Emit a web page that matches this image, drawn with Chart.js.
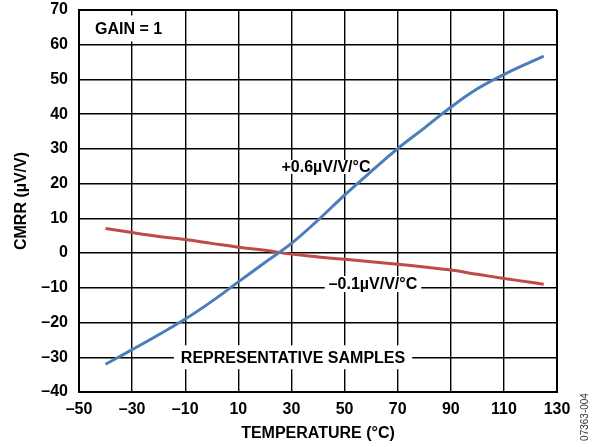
<!DOCTYPE html>
<html>
<head>
<meta charset="utf-8">
<script src="https://cdn.jsdelivr.net/npm/chart.js@4"></script>
<style>
  html, body { margin: 0; padding: 0; background: #fff; }
  #wrap { width: 597px; height: 447px; position: relative; }
</style>
</head>
<body>
<div id="wrap"><canvas id="myChart"></canvas></div>
<script>
// temperature (°C) at which each curve was read
const temps = [-40, -30, -20, -10, 0, 10, 20, 30, 40, 50, 60, 70, 80, 90, 100, 110, 120, 125]
// CMRR (µV/V), sample with +0.6µV/V/°C drift
const cmrrUp = [-32, -27.8, -23.5, -19, -13.9, -8.3, -2.7, 2.8, 9.5, 16.7, 23.5, 30.1, 36, 42, 47.3, 51.4, 55, 56.7]
// CMRR (µV/V), sample with -0.1µV/V/°C drift
const cmrrDown = [7.1, 5.9, 4.8, 3.9, 2.8, 1.7, 0.8, -0.3, -1.1, -1.8, -2.5, -3.2, -4.0, -4.9, -6.1, -7.3, -8.4, -9.0]

const xTicks = {min: -50, max: 130, step: 20}
const yTicks = {min: -40, max: 70, step: 10}

const FONT = '"Liberation Sans", Arial, Helvetica, sans-serif'

// text notes placed in data space, drawn on a white box over the grid
const notes = [
    {text: 'GAIN = 1', x: -44, y: 64.7, align: 'left', padX: 7, padY: 13},
    {text: '+0.6µV/V/°C', x: 43, y: 24.8, align: 'center', padX: 4, padY: 7},
    {text: '–0.1µV/V/°C', x: 60.7, y: -8.9, align: 'center', padX: 4, padY: 8},
    {text: 'REPRESENTATIVE SAMPLES', x: 30.6, y: -30, align: 'center', padX: 7, padY: 12}
]

function dash(v) {
    return v < 0 ? '–' + Math.abs(v) : '' + v
}

const notesPlugin = {
    id: 'notes',
    beforeDatasetsDraw(chart) {
        const ctx = chart.ctx
        const xs = chart.scales.x, ys = chart.scales.y
        ctx.save()
        ctx.font = 'bold 16px ' + FONT
        ctx.textBaseline = 'middle'
        notes.forEach(n => {
            const px = xs.getPixelForValue(n.x)
            const py = ys.getPixelForValue(n.y)
            const w = ctx.measureText(n.text).width
            const left = n.align === 'left' ? px : px - w / 2
            ctx.fillStyle = '#fff'
            ctx.fillRect(left - n.padX, py - n.padY, w + 2 * n.padX, 2 * n.padY)
            ctx.fillStyle = '#000'
            ctx.textAlign = 'left'
            ctx.fillText(n.text, left, py + 1)
        })
        ctx.restore()
    },
    afterDraw(chart) {
        const ctx = chart.ctx
        ctx.save()
        ctx.translate(chart.width - 12, chart.height - 30)
        ctx.rotate(-Math.PI / 2)
        ctx.font = '10px ' + FONT
        ctx.fillStyle = '#333'
        ctx.textAlign = 'center'
        ctx.textBaseline = 'middle'
        ctx.fillText('07363-004', 0, 0)
        ctx.restore()
    }
}

function edgeWidth(lo, hi) {
    return c => (c.tick && (c.tick.value === lo || c.tick.value === hi)) ? 2 : 1.4
}

const ctx = document.getElementById('myChart').getContext('2d')
const myChart = new Chart(ctx, {
    type: 'scatter',
    data: {
        datasets: [
            {
                label: '+0.6µV/V/°C',
                data: temps.map((t, i) => ({x: t, y: cmrrUp[i]})),
                showLine: true,
                borderColor: '#4a7ebb',
                borderWidth: 3,
                pointRadius: 0,
                tension: 0.4
            },
            {
                label: '–0.1µV/V/°C',
                data: temps.map((t, i) => ({x: t, y: cmrrDown[i]})),
                showLine: true,
                borderColor: '#be4b48',
                borderWidth: 3,
                pointRadius: 0,
                tension: 0.4
            }
        ]
    },
    options: {
        responsive: true,
        maintainAspectRatio: false,
        animation: false,
        events: [],
        layout: {padding: {left: 0, right: 40, top: 10, bottom: 0}},
        plugins: {legend: {display: false}, tooltip: {enabled: false}},
        scales: {
            x: {
                type: 'linear',
                min: xTicks.min,
                max: xTicks.max,
                afterFit: s => { s.height = 55; s.paddingLeft = 0; s.paddingRight = 0 },
                ticks: {
                    stepSize: xTicks.step,
                    color: '#000',
                    padding: 8,
                    maxRotation: 0,
                    font: {family: FONT, size: 16, weight: 'bold'},
                    callback: v => dash(v)
                },
                grid: {color: '#000', lineWidth: edgeWidth(xTicks.min, xTicks.max), drawTicks: false},
                border: {display: true, color: '#000', width: 2},
                title: {
                    display: true,
                    text: 'TEMPERATURE (°C)',
                    color: '#000',
                    font: {family: FONT, size: 16, weight: 'bold'},
                    padding: {top: 0, bottom: 4}
                }
            },
            y: {
                min: yTicks.min,
                max: yTicks.max,
                afterFit: s => { s.width = 79; s.paddingTop = 0; s.paddingBottom = 0 },
                ticks: {
                    stepSize: yTicks.step,
                    color: '#000',
                    padding: 11,
                    font: {family: FONT, size: 16, weight: 'bold'},
                    callback: v => dash(v)
                },
                grid: {color: '#000', lineWidth: edgeWidth(yTicks.min, yTicks.max), drawTicks: false},
                border: {display: true, color: '#000', width: 2},
                title: {
                    display: true,
                    text: 'CMRR (µV/V)',
                    color: '#000',
                    font: {family: FONT, size: 16, weight: 'bold'},
                    padding: {top: 12, bottom: 0}
                }
            }
        }
    },
    plugins: [notesPlugin]
})
</script>
</body>
</html>
